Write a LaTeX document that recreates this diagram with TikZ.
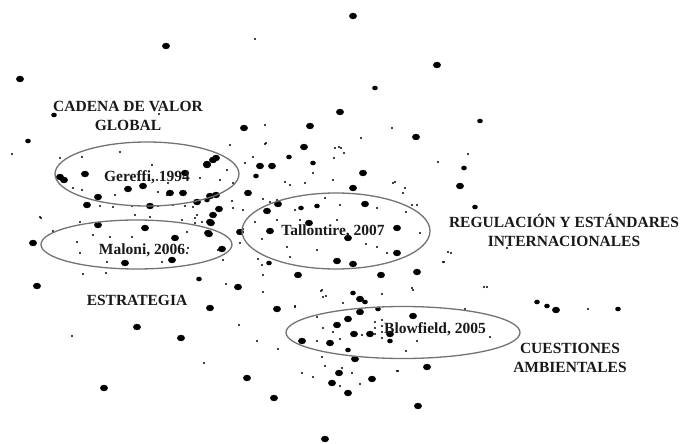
\documentclass[tikz,border=0pt]{standalone}
\usepackage{fontspec}
\setmainfont{Liberation Serif}
\begin{document}
\begin{tikzpicture}[x=1pt,y=-1pt,
  lbl/.style={inner sep=0pt,font=\fontsize{15.5}{19}\selectfont\bfseries,align=center,text=black!90},
  ring/.style={draw=black!55,line width=1.3pt}]
\useasboundingbox[fill=white] (0,0) rectangle (694,444);
% big dots
\foreach \x/\y in {353/16,166/46,437/65,20/79,340/112,244/128,310/126,416/137,304/147,460/186,363/173,353/188,365/204,397/228,417/272,337/261,353/264,348/238,309/223,270/231,267/211,278/204,248/193,298/275,397/253,240/232,216/158,207/164,185/173,260/166,272/166,197/202,216/195,183/193,219/209,213/215,211/223,209/234,222/249,238/287,60/177,64/180,85/174,98/197,87/205,128/189,143/186,150/206,170/193,210/196,213/160,207/165,98/225,145/228,175/238,208/233,210/222,125/263,172/260,33/243,37/286,137/327,181/338,104/388,210/308,247/378,274/398,277/309,381/275,360/299,360/312,413/316,348/319,337/325,354/334,370/334,390/334,302/341,330/343,355/359,339/373,372/379,332/383,348/393,418/406,427/367,325/439,556/310}
  \fill (\x,\y) ellipse (3.9 and 3.2);
% medium dots
\foreach \x/\y in {375/88,480/121,54/115,28/141,313/163,289/157,464/168,475/207,317/206,301/208,269/263,256/176,207/200,537/302,547/306,618/309,353/293,365/302,378/309,390/341,348/350,199/279}
  \fill (\x,\y) ellipse (2.8 and 2.3);
% small dots
\foreach \x/\y in {255/39,265/125,392/128,361/138,265/144,339/147,12/154,230/145,127/106,159/114,438/162,468/154,393/183,405/188,341/148,344/153,507/248,448/252,444/262,487/287,588/309,413/290,398/371,451/253,366/244,420/233,266/143,253/157,245/163,232/201,233/208,243/210,197/215,195/223,202/222,188/248,223/260,258/259,262/265,287/247,322/290,326/296,285/182,290/185,305/183,333/180,334/158,335/148,313/173,295/210,300/220,270/202,277/200,280/205,263/199,243/229,240/243,82/157,120/152,60/158,218/250,72/336,83/274,106/273,226/284,263/292,263/275,239/325,257/341,278/349,204/363,295/306,321/291,323/297,295/307,343/303,382/294,412/288,484/287,443/262,465/309,490/337,417/341,406/351,397/371,322/357,325/366,302/373,313/377,340/386,360/384,342/368,352/373,317/341,340/339,362/335,323/328,333/332,317/317,41/218,100/206,113/207,132/206,135/215,158/206,173/205,185/206,193/207,150/217,182/220,195/218,213/217,40/217,80/222,77/242,80/253,107/262,163/250,162/262,187/253,187/232,152/165,73/188,82/190,115/195,158/192,167/195,168/183,200/178,227/170,220/180,233/183,157/180,53/231,93/235,110/237,132/237,375/322,375/328,375/334,382/320,382/326,382/332,382/338,325/198,340/205,337/220,377/208,412/205,406/212,387/253,377/247,317/250,290/257,262/239,255/222,277/220,395/182,403/193,417/205}
  \fill (\x,\y) circle (1.2);
% ellipses
\draw[ring] (147,174) ellipse (92 and 32);
\draw[ring] (136.5,244.5) ellipse (95.5 and 24.5);
\draw[ring] (336,231) ellipse (94 and 38);
\draw[ring] (403,332.5) ellipse (117 and 26);
% labels
\node[lbl] (cadena) at (128,116) {CADENA DE VALOR\\GLOBAL};
\node[lbl] (gereffi) at (147,177) {Gereffi, 1994};
\node[lbl] (maloni) at (142,250) {Maloni, 2006};
\node[lbl] (tallontire) at (333,231) {Tallontire, 2007};
\node[lbl] (blowfield) at (435,329) {Blowfield, 2005};
\node[lbl] (regulacion) at (564,230) {REGULACIÓN Y ESTÁNDARES\\INTERNACIONALES};
\node[lbl] (estrategia) at (137,300) {ESTRATEGIA};
\node[lbl] (cuestiones) at (570,357.5) {CUESTIONES\\AMBIENTALES};
\end{tikzpicture}
\end{document}
